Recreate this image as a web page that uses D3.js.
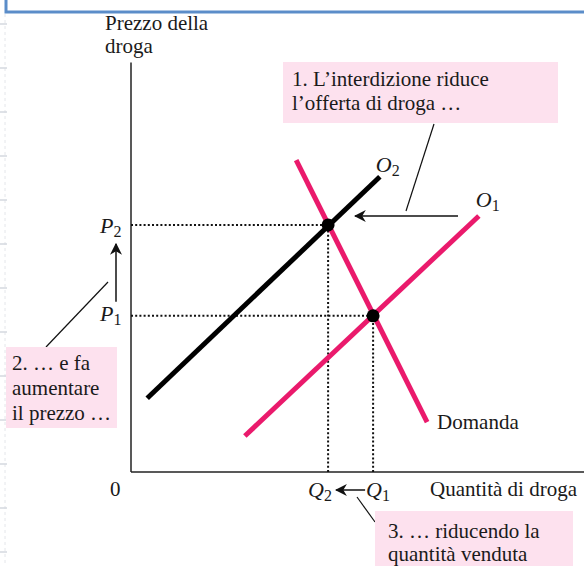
<!DOCTYPE html>
<html>
<head>
<meta charset="utf-8">
<script src="https://cdn.jsdelivr.net/npm/d3@7"></script>
<style>
  body { margin: 0; background: #fff; }
  svg text { font-family: "Liberation Serif", "DejaVu Serif", serif; fill: #1a1a1a; }
</style>
</head>
<body>
<div id="chart"></div>
<script>
// Equilibrium values (quantity and price, in chart units)
const quantities = { Q1: 5.38, Q2: 4.38 };
const prices = { P1: 3.47, P2: 5.49 };

// Curves as end points [quantity, price]
const demand = [[3.67, 6.93], [6.58, 1.11]];
const supply1 = [[2.53, 0.80], [7.73, 5.69]];
const supply2 = [[0.36, 1.64], [5.53, 6.56]];

// Equilibria
const equilibria = [[quantities.Q2, prices.P2], [quantities.Q1, prices.P1]];

const width = 584, height = 566;
const pink = "#ea1a6c";
const boxFill = "#fde1ee";
const fs = 21;

const svg = d3.select("#chart").append("svg")
    .attr("width", width)
    .attr("height", height);

// Scales: 45px per unit on both axes
const x = d3.scaleLinear().domain([0, 10]).range([131, 581]);
const y = d3.scaleLinear().domain([0, 10]).range([472, 22]);

// Window frame + ruler marks from the original screenshot
svg.append("rect")
    .attr("x", 6).attr("y", -10)
    .attr("width", 600).attr("height", 22)
    .attr("fill", "none")
    .attr("stroke", "#5b8dc9")
    .attr("stroke-width", 3);
svg.append("line")
    .attr("x1", 5).attr("x2", 5).attr("y1", 14).attr("y2", height)
    .attr("stroke", "#e4e6ea").attr("stroke-dasharray", "3,3");
svg.selectAll(".ruler").data(d3.range(24, height, 44)).join("line")
    .attr("class", "ruler")
    .attr("x1", 0).attr("x2", 7)
    .attr("y1", d => d).attr("y2", d => d)
    .attr("stroke", "#d5d9df").attr("stroke-width", 1.5);

// Arrow marker
svg.append("defs").append("marker")
    .attr("id", "arrow")
    .attr("viewBox", "0 0 10 10")
    .attr("refX", 9).attr("refY", 5)
    .attr("markerWidth", 12).attr("markerHeight", 12)
    .attr("markerUnits", "userSpaceOnUse")
    .attr("orient", "auto")
    .append("path")
    .attr("d", "M0,0 L10,5 L0,10 L3,5 Z")
    .attr("fill", "#111");

// Axes
svg.append("line")
    .attr("x1", x(0)).attr("x2", x(0))
    .attr("y1", y(0)).attr("y2", y(9.1))
    .attr("stroke", "#222").attr("stroke-width", 1.5);
svg.append("line")
    .attr("x1", x(0)).attr("x2", width)
    .attr("y1", y(0)).attr("y2", y(0))
    .attr("stroke", "#222").attr("stroke-width", 1.5);

// Dotted guide lines
const dotted = svg.append("g")
    .attr("stroke", "#111")
    .attr("stroke-width", 2)
    .attr("stroke-dasharray", "2,2.2");
equilibria.forEach(([q, p]) => {
    dotted.append("line")
        .attr("x1", x(0)).attr("x2", x(q))
        .attr("y1", y(p)).attr("y2", y(p));
    dotted.append("line")
        .attr("x1", x(q)).attr("x2", x(q))
        .attr("y1", y(0)).attr("y2", y(p));
});

// Curves
const line = d3.line().x(d => x(d[0])).y(d => y(d[1]));
svg.append("path").datum(supply2)
    .attr("d", line).attr("stroke", "#000").attr("stroke-width", 5).attr("fill", "none");
svg.append("path").datum(supply1)
    .attr("d", line).attr("stroke", pink).attr("stroke-width", 5).attr("fill", "none");
svg.append("path").datum(demand)
    .attr("d", line).attr("stroke", pink).attr("stroke-width", 5).attr("fill", "none");

// Equilibrium dots
svg.selectAll(".eq").data(equilibria).join("circle")
    .attr("class", "eq")
    .attr("cx", d => x(d[0])).attr("cy", d => y(d[1]))
    .attr("r", 6.5).attr("fill", "#000");

// Helper for italic letter + subscript
function subLabel(px, py, letter, sub) {
    const t = svg.append("text").attr("x", px).attr("y", py).attr("font-size", 22);
    t.append("tspan").attr("font-style", "italic").text(letter);
    t.append("tspan").attr("font-size", 16).attr("dy", 4).text(sub);
    return t;
}

// Curve labels
subLabel(x(supply2[1][0]) - 4, y(supply2[1][1]) - 5, "O", "2");
subLabel(x(supply1[1][0]) - 3, y(supply1[1][1]) - 9, "O", "1");
svg.append("text").attr("x", x(demand[1][0]) + 10).attr("y", y(demand[1][1]) + 7)
    .attr("font-size", fs).text("Domanda");

// Axis labels
svg.append("text").attr("x", 105).attr("y", 30).attr("font-size", fs).text("Prezzo della");
svg.append("text").attr("x", 105).attr("y", 53).attr("font-size", fs).text("droga");
svg.append("text").attr("x", 430).attr("y", 496).attr("font-size", fs).text("Quantità di droga");
svg.append("text").attr("x", 110).attr("y", 496).attr("font-size", fs).text("0");

// Price / quantity labels
subLabel(100, y(prices.P2) + 8, "P", "2");
subLabel(100, y(prices.P1) + 5, "P", "1");
subLabel(x(quantities.Q2) - 20, 497, "Q", "2");
subLabel(x(quantities.Q1) - 7, 497, "Q", "1");

// Shift arrows
function arrow(x1, y1, x2, y2) {
    svg.append("line")
        .attr("x1", x1).attr("y1", y1).attr("x2", x2).attr("y2", y2)
        .attr("stroke", "#111").attr("stroke-width", 1.5)
        .attr("marker-end", "url(#arrow)");
}
arrow(116, y(prices.P1) - 14, 116, y(prices.P2) + 19);
arrow(x(quantities.Q1) - 8, 490, x(quantities.Q2) + 8, 490);
arrow(458, 216, 355, 216);

// Leader lines
function leader(x1, y1, x2, y2) {
    svg.append("line")
        .attr("x1", x1).attr("y1", y1).attr("x2", x2).attr("y2", y2)
        .attr("stroke", "#111").attr("stroke-width", 1.2);
}
leader(434, 124, 406, 211);
leader(108, 282, 46, 347);
leader(357, 497, 375, 522);

// Annotation boxes
function note(bx, by, bw, bh, lines, tx, ty, lh) {
    svg.append("rect").attr("x", bx).attr("y", by).attr("width", bw).attr("height", bh)
        .attr("fill", boxFill);
    lines.forEach((s, i) => {
        svg.append("text").attr("x", tx).attr("y", ty + i * lh)
            .attr("font-size", fs).text(s);
    });
}
note(283, 62, 275, 61, ["1. L\u2019interdizione riduce", "l\u2019offerta di droga \u2026"], 292, 86, 24);
note(6, 347, 111, 81, ["2. \u2026 e fa", "aumentare", "il prezzo \u2026"], 12, 370, 25);
note(375, 511, 198, 60, ["3. \u2026 riducendo la", "quantità venduta"], 388, 538, 23);
</script>
</body>
</html>
